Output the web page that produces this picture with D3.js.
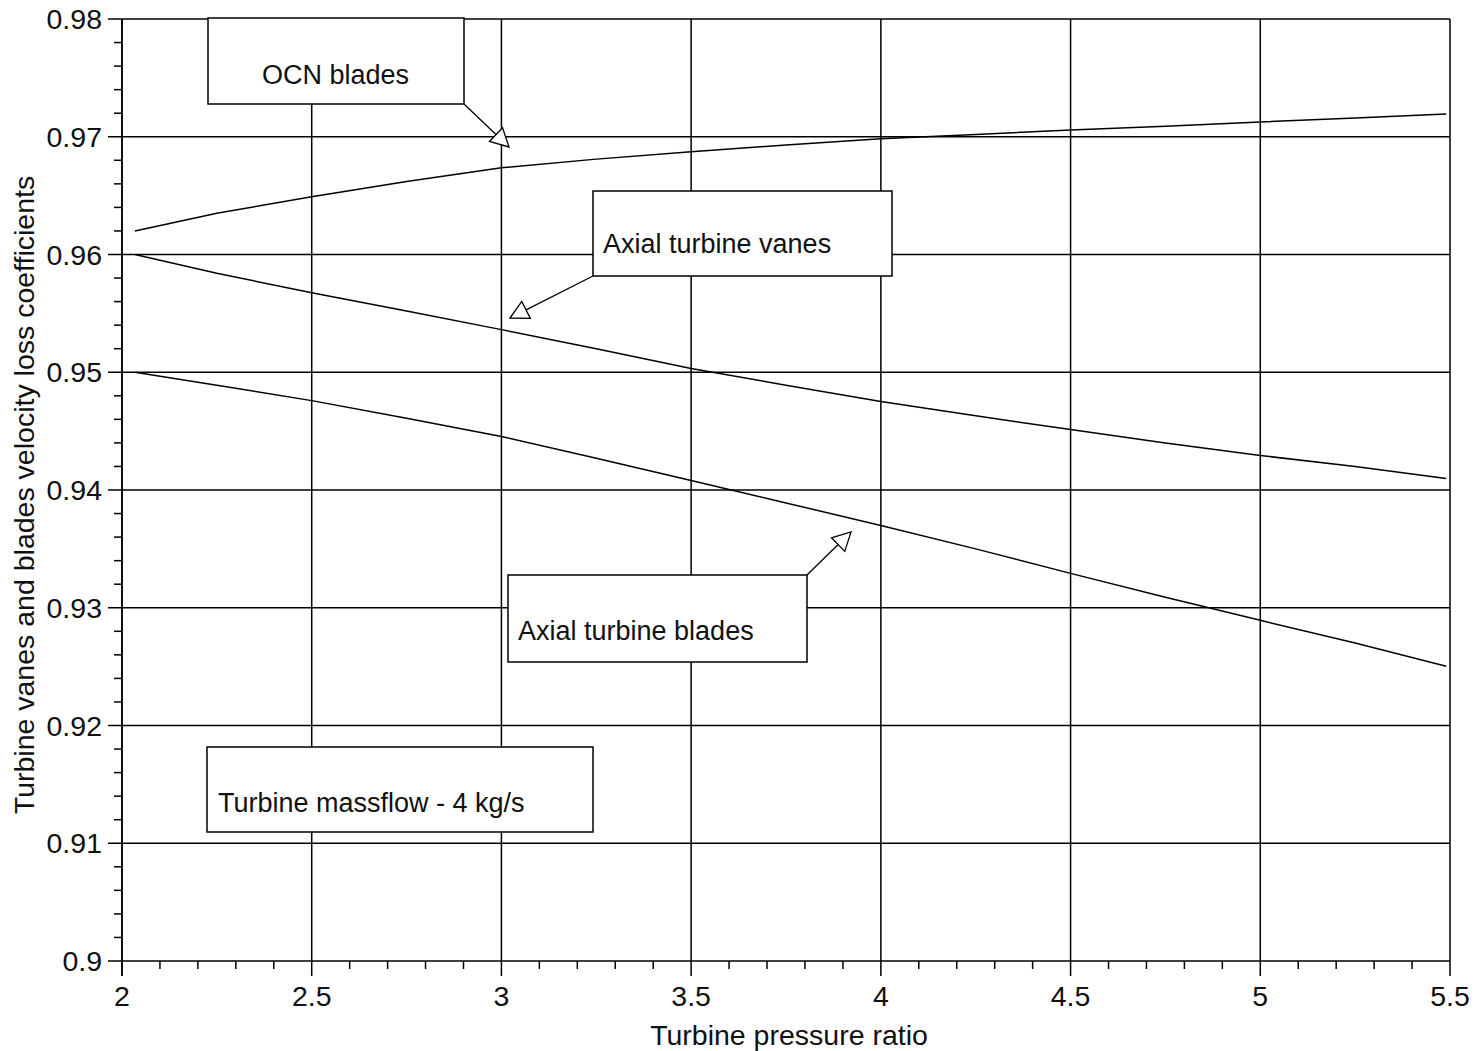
<!DOCTYPE html>
<html><head><meta charset="utf-8">
<script src="https://cdn.jsdelivr.net/npm/d3@7"></script>
<style>
body{margin:0;background:#fff;}
text{font-family:"Liberation Sans",Arial,sans-serif;fill:#111;}
</style></head>
<body><svg id="c" width="1480" height="1051"></svg>
<script>
const pressureRatio = [2.034, 2.25, 2.5, 2.75, 3.0, 3.25, 3.5, 3.75, 4.0, 4.25, 4.5, 4.75, 5.0, 5.25, 5.49];
const ocnBlades   = [0.9620, 0.9635, 0.9649, 0.9662, 0.96736, 0.9681, 0.96872, 0.9693, 0.96982, 0.9702, 0.97058, 0.9709, 0.97126, 0.9716, 0.97194];
const axialVanes  = [0.9600, 0.9584, 0.95676, 0.9552, 0.95362, 0.9520, 0.95031, 0.9489, 0.94751, 0.9463, 0.94513, 0.9440, 0.94293, 0.9420, 0.94098];
const axialBlades = [0.9500, 0.9489, 0.94759, 0.9461, 0.94454, 0.9427, 0.94081, 0.9389, 0.93699, 0.9350, 0.93292, 0.9309, 0.92893, 0.9270, 0.92503];
const xTicks = [2, 2.5, 3, 3.5, 4, 4.5, 5, 5.5];
const yTicks = [0.9, 0.91, 0.92, 0.93, 0.94, 0.95, 0.96, 0.97, 0.98];
const xTitle = "Turbine pressure ratio";
const yTitle = "Turbine vanes and blades velocity loss coefficients";
const notes = [
  {text:"OCN blades", box:[208,18,464,104], tx:262, ty:84, from:[464,104], tip:[509,147]},
  {text:"Axial turbine vanes", box:[593,191,892,276], tx:603, ty:253, from:[593,276], tip:[510,318]},
  {text:"Axial turbine blades", box:[508,575,807,662], tx:518, ty:640, from:[807,575], tip:[851,532]},
  {text:"Turbine massflow - 4 kg/s", box:[207,747,593,832], tx:218, ty:812, from:null, tip:null}
];

const svg = d3.select("#c");
const L=122, R=1450, T=19, B=961;
const x = d3.scaleLinear().domain([2,5.5]).range([L,R]);
const y = d3.scaleLinear().domain([0.9,0.98]).range([B,T]);
const sw = 1.5;
const axisFont = 28.5;

// grid
const g = svg.append("g");
g.selectAll(".vg").data(xTicks).join("line")
  .attr("x1",d=>x(d)).attr("x2",d=>x(d)).attr("y1",T).attr("y2",B+15)
  .attr("stroke","#000").attr("stroke-width",sw);
g.selectAll(".hg").data(yTicks).join("line")
  .attr("x1",L-14).attr("x2",R).attr("y1",d=>y(d)).attr("y2",d=>y(d))
  .attr("stroke","#000").attr("stroke-width",sw);
// minor ticks
const xMinor = d3.range(2,5.5001,0.1).filter(v=>Math.abs(v*2-Math.round(v*2))>1e-6);
g.selectAll(".xm").data(xMinor).join("line")
  .attr("x1",d=>x(d)).attr("x2",d=>x(d)).attr("y1",B).attr("y2",B+8)
  .attr("stroke","#000").attr("stroke-width",sw);
const yMinor = d3.range(0.9,0.98001,0.002).filter(v=>Math.abs(v*100-Math.round(v*100))>1e-6);
g.selectAll(".ym").data(yMinor).join("line")
  .attr("x1",L-8).attr("x2",L).attr("y1",d=>y(d)).attr("y2",d=>y(d))
  .attr("stroke","#000").attr("stroke-width",sw);
// left axis line
g.append("line").attr("x1",L).attr("x2",L).attr("y1",T).attr("y2",B+15).attr("stroke","#000").attr("stroke-width",sw);

// tick labels
svg.selectAll(".xl").data(xTicks).join("text")
  .attr("x",d=>x(d)).attr("y",1006).attr("text-anchor","middle").attr("font-size",axisFont)
  .text(d=>d3.format("")(d));
svg.selectAll(".yl").data(yTicks).join("text")
  .attr("x",102).attr("y",d=>y(d)+10).attr("text-anchor","end").attr("font-size",axisFont)
  .text(d=>d===0.9?"0.9":d.toFixed(2));
svg.append("text").attr("x",789).attr("y",1045).attr("text-anchor","middle").attr("font-size",axisFont).text(xTitle);
svg.append("text").attr("transform","translate(34,495) rotate(-90)").attr("text-anchor","middle").attr("font-size",axisFont).text(yTitle);

// data lines
const line = d3.line().x((d,i)=>x(pressureRatio[i])).y(d=>y(d));
[ocnBlades, axialVanes, axialBlades].forEach(s=>{
  svg.append("path").attr("d",line(s)).attr("fill","none").attr("stroke","#000").attr("stroke-width",sw);
});

// annotations
notes.forEach(n=>{
  const [x0,y0,x1,y1]=n.box;
  svg.append("rect").attr("x",x0).attr("y",y0).attr("width",x1-x0).attr("height",y1-y0)
    .attr("fill","#fff").attr("stroke","#000").attr("stroke-width",sw);
  svg.append("text").attr("x",n.tx).attr("y",n.ty).attr("font-size",27).text(n.text);
  if(n.from){
    const [fx,fy]=n.from,[tx,ty]=n.tip;
    const dx=tx-fx, dy=ty-fy, len=Math.hypot(dx,dy), ux=dx/len, uy=dy/len;
    const h=18, w=9.5;
    const bx=tx-ux*h, by=ty-uy*h;
    svg.append("line").attr("x1",fx).attr("y1",fy).attr("x2",bx).attr("y2",by).attr("stroke","#000").attr("stroke-width",1.3);
    svg.append("polygon").attr("points",[[tx,ty],[bx-uy*w,by+ux*w],[bx+uy*w,by-ux*w]].map(p=>p.join(",")).join(" "))
      .attr("fill","#fff").attr("stroke","#000").attr("stroke-width",1.3);
  }
});
</script></body></html>
